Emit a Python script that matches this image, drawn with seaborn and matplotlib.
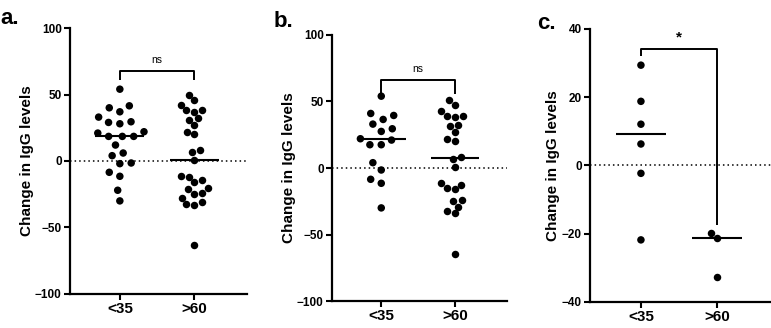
'''
Change in IgG levels by age group, three panels
'''
import pandas as pd
import numpy as np
import matplotlib
matplotlib.use('Agg')
import matplotlib.pyplot as plt
import seaborn as sns

# Groups
groups = ['<35', '>60']

# Panel a values
a_young = [54, 41.5, 40, 37, 33, 29.5, 29, 28, 22, 21, 18.5, 18.5, 18.5, 12, 6, 4,
           -1.5, -2, -8.5, -11.5, -22, -30]
a_old = [50, 46, 42, 38, 38, 37, 32, 31, 27, 21.5, 20, 8.5, 6.5, 1, -11, -12, -14.5,
         -16, -20, -21, -24, -24.5, -28, -31, -32.5, -33, -63.5]

# Panel b values
b_young = [54, 41, 39.5, 36.5, 33, 29.5, 27.5, 22, 21, 17.5, 17.5, 4, -1.5, -8.5,
           -11.5, -30]
b_old = [51, 47, 43, 39, 39, 38, 32.5, 31.5, 27, 21.5, 20.5, 8, 6.5, 1, -11, -13,
         -15, -16, -24, -25, -29, -32, -34, -64.5]

# Panel c values
c_young = [29.4, 18.8, 12.1, 6.3, -2.3, -21.8]
c_old = [-19.9, -21.2, -32.7]

# Significance annotations
sig_labels = ['ns', 'ns', '*']
bracket_top = [68, 66.5, 34.2]
bracket_ends = [(61, 61), (56, 56), (32, -17.5)]

panel_names = ['a.', 'b.', 'c.']
y_limits = [(-100, 100), (-100, 100), (-40, 40)]
y_ticks = [[-100, -50, 0, 50, 100], [-100, -50, 0, 50, 100], [-40, -20, 0, 20, 40]]

sns.set_style('ticks', {'axes.edgecolor': 'black', 'text.color': 'black',
                        'axes.labelcolor': 'black', 'xtick.color': 'black',
                        'ytick.color': 'black'})
plt.rcParams['font.family'] = ['Liberation Sans', 'DejaVu Sans']


def make_frame(young, old):
    return pd.DataFrame({
        'group': [groups[0]] * len(young) + [groups[1]] * len(old),
        'value': young + old,
    })


def draw_panel(ax, df, i):
    sns.swarmplot(data=df, x='group', y='value', order=groups, color='black',
                  size=5.4, ax=ax, zorder=3)
    # invisible edge widens the swarm so dots don't touch
    dots = ax.collections[0]
    dots.set_edgecolor('none')
    dots.set_linewidth(2.4)

    # Median line for each group
    for k, g in enumerate(groups):
        med = np.median(df.loc[df['group'] == g, 'value'])
        ax.hlines(med, k - 0.33, k + 0.33, color='black', linewidth=1.5, zorder=4)

    # Dotted zero line
    ax.axhline(0, color='black', linestyle=(0, (1, 2)), linewidth=1.1, zorder=1)

    # Significance bracket
    top = bracket_top[i]
    left_end, right_end = bracket_ends[i]
    ax.plot([0, 0, 1, 1], [left_end, top, top, right_end], color='black',
            linewidth=1.4, solid_capstyle='butt', zorder=2)
    span = y_limits[i][1] - y_limits[i][0]
    if sig_labels[i] == '*':
        ax.text(0.5, top + span * 0.015, '*', ha='center', va='bottom',
                fontsize=11, fontweight='bold')
    else:
        ax.text(0.5, top + span * 0.02, sig_labels[i], ha='center', va='bottom',
                fontsize=7.5)

    ax.set_xlim(-0.67, 1.71)
    ax.set_ylim(*y_limits[i])
    ax.set_yticks(y_ticks[i])
    ax.set_xlabel('')
    ax.set_ylabel('Change in IgG levels', fontsize=11, fontweight='bold', labelpad=1)
    for lab in ax.get_yticklabels():
        lab.set_fontweight('bold')
        lab.set_fontsize(8.5)
    for lab in ax.get_xticklabels():
        lab.set_fontweight('bold')
        lab.set_fontsize(11)
    ax.tick_params(width=1.5, length=4.5)
    ax.tick_params(axis='y', pad=1.5)
    ax.tick_params(axis='x', pad=1)
    ax.spines['left'].set_linewidth(1.6)
    ax.spines['bottom'].set_linewidth(1.6)
    sns.despine(ax=ax)


if __name__ == "__main__":
    fig = plt.figure(figsize=(7.71, 3.28), dpi=100)

    # Axes positions
    positions = [
        [0.0908, 0.1037, 0.2296, 0.8109],
        [0.4306, 0.0823, 0.2270, 0.8110],
        [0.7652, 0.0793, 0.2348, 0.8323],
    ]
    frames = [make_frame(a_young, a_old), make_frame(b_young, b_old),
              make_frame(c_young, c_old)]
    label_pos = [(0.001, 0.975), (0.355, 0.965), (0.697, 0.96)]

    for i, df in enumerate(frames):
        ax = fig.add_axes(positions[i])
        draw_panel(ax, df, i)
        fig.text(label_pos[i][0], label_pos[i][1], panel_names[i], fontsize=16,
                 fontweight='bold', va='top', ha='left')

    fig.savefig('out.png', dpi=100)
